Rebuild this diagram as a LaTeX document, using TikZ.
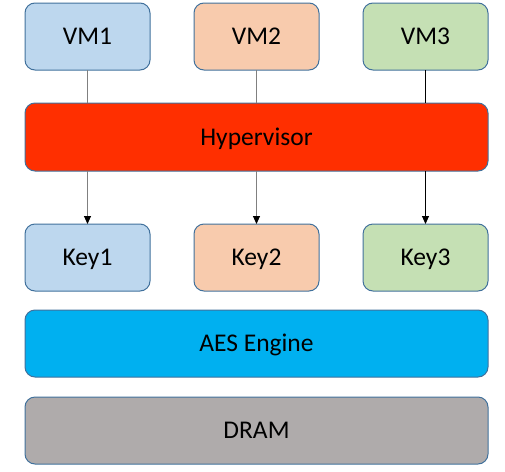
\documentclass[tikz,border=0pt]{standalone}
\usepackage{fontspec}
\setmainfont{Carlito}
\usetikzlibrary{arrows.meta}
\definecolor{vmblue}{HTML}{BDD7EE}
\definecolor{vmorange}{HTML}{F8CBAD}
\definecolor{vmgreen}{HTML}{C5E0B4}
\definecolor{hypred}{HTML}{FF2F00}
\definecolor{aesblue}{HTML}{00B0F0}
\definecolor{dramgray}{HTML}{AFABAB}
\definecolor{edgeblue}{HTML}{41719C}
\definecolor{linkgray}{HTML}{808080}
\tikzset{
  block/.style={draw=edgeblue, line width=1pt, rounded corners=10pt,
    inner sep=0pt, outer sep=0pt, text=black,
    text height=16.4pt, text depth=0pt,
    font=\fontsize{25.5}{30}\selectfont},
  small/.style={block, minimum width=125pt, minimum height=67pt},
  wide/.style={block, minimum width=463pt, minimum height=67pt},
  link/.style={line width=0.9pt},
  tip/.style={link, -{Triangle[length=8pt,width=7pt,color=black,fill=black]}}
}
\begin{document}
\begin{tikzpicture}[x=1pt,y=-1pt]
\useasboundingbox (0,0) rectangle (505,471);
% virtual machines
\node[small, fill=vmblue]   (vm1) at (87.5,36.5)  {VM1};
\node[small, fill=vmorange] (vm2) at (256.5,36.5) {VM2};
\node[small, fill=vmgreen]  (vm3) at (425.5,36.5) {VM3};
% hypervisor layer
\node[wide, fill=hypred, minimum height=68pt] (hyp) at (256.5,137) {Hypervisor};
% per-VM keys
\node[small, fill=vmblue]   (key1) at (87.5,257.5)  {Key1};
\node[small, fill=vmorange] (key2) at (256.5,257.5) {Key2};
\node[small, fill=vmgreen]  (key3) at (425.5,257.5) {Key3};
% engine and memory
\node[wide, fill=aesblue]  (aes)  at (256.5,343.5) {AES Engine};
\node[wide, fill=dramgray] (dram) at (256.5,430.5) {DRAM};
% links from each VM through the hypervisor to its key
\draw[link, linkgray] (vm1.south) -- (vm1.south |- hyp.north);
\draw[link, linkgray] (vm2.south) -- (vm2.south |- hyp.north);
\draw[link, black]    (vm3.south) -- (vm3.south |- hyp.north);
\draw[tip, linkgray] (key1.north |- hyp.south) -- (key1.north);
\draw[tip, linkgray] (key2.north |- hyp.south) -- (key2.north);
\draw[tip, black]    (key3.north |- hyp.south) -- (key3.north);
\end{tikzpicture}
\end{document}
